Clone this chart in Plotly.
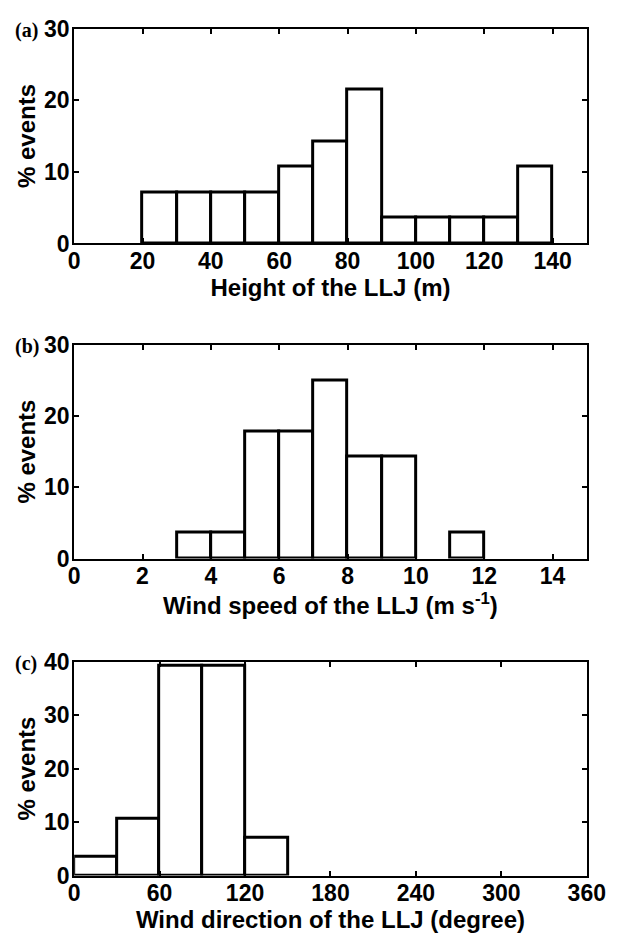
import numpy as np
import plotly.graph_objects as go

# ---- data (percent of events, 28 events) ----
height_left = [20, 30, 40, 50, 60, 70, 80, 90, 100, 110, 120, 130]
height_pct = [7.14, 7.14, 7.14, 7.14, 10.71, 14.29, 21.43, 3.57, 3.57, 3.57, 3.57, 10.71]
height_width = 10

speed_left = [3, 4, 5, 6, 7, 8, 9, 11]
speed_pct = [3.57, 3.57, 17.86, 17.86, 25.0, 14.29, 14.29, 3.57]
speed_width = 1

dir_left = [0, 30, 60, 90, 120]
dir_pct = [3.57, 10.71, 39.29, 39.29, 7.14]
dir_width = 30

height_ticks = [0, 20, 40, 60, 80, 100, 120, 140]
speed_ticks = [0, 2, 4, 6, 8, 10, 12, 14]
dir_ticks = [0, 60, 120, 180, 240, 300, 360]

panel_labels = ["(a)", "(b)", "(c)"]
x_titles = ["Height of the LLJ (m)",
            "Wind speed of the LLJ (m s<sup>-1</sup>)",
            "Wind direction of the LLJ (degree)"]
y_title = "% events"

W, H = 625, 944
ax_left, ax_right = 71, 605
ax_tops = [16, 341, 667]
ax_bots = [237, 561, 887]

font_main = "Liberation Sans, Arial, sans-serif"
FS_TICK = 23
FS_TITLE = 24

fig = go.Figure()

panels = [
    (height_left, height_pct, height_width, height_ticks, [0, 150], [0, 30], [0, 10, 20, 30]),
    (speed_left, speed_pct, speed_width, speed_ticks, [0, 15], [0, 30], [0, 10, 20, 30]),
    (dir_left, dir_pct, dir_width, dir_ticks, [0, 360], [0, 40], [0, 10, 20, 30, 40]),
]

layout = {}
for i, (left, pct, w, xt, xr, yr, yt) in enumerate(panels):
    n = "" if i == 0 else str(i + 1)
    centers = np.array(left, dtype=float) + w / 2.0
    fig.add_trace(go.Bar(
        x=centers, y=pct, width=[w] * len(pct),
        marker=dict(color="white", line=dict(color="black", width=3)),
        xaxis="x" + n, yaxis="y" + n, showlegend=False, hoverinfo="x+y",
    ))
    ydom = [1 - ax_bots[i] / H, 1 - ax_tops[i] / H]
    common = dict(showline=True, linecolor="black", linewidth=2, mirror="ticks",
                  ticks="inside", ticklen=5, tickwidth=1.5, tickcolor="black",
                  showgrid=False, zeroline=False,
                  tickfont=dict(family=font_main, size=FS_TICK, color="black", weight="bold"))
    layout["xaxis" + n] = dict(
        domain=[ax_left / W, ax_right / W], range=xr, tickmode="array", tickvals=xt,
        anchor="y" + n, ticklabelstandoff=-4,
        title=dict(text=x_titles[i], font=dict(family=font_main, size=FS_TITLE, color="black", weight="bold"),
                   standoff=0),
        **common)
    layout["yaxis" + n] = dict(
        domain=ydom, range=yr, tickmode="array", tickvals=yt, anchor="x" + n,
        ticklabelstandoff=-2,
        title=dict(text=y_title, font=dict(family=font_main, size=FS_TITLE, color="black", weight="bold"),
                   standoff=2),
        **common)

annotations = []
for i, lab in enumerate(panel_labels):
    annotations.append(dict(
        text=lab, xref="paper", yref="paper", x=7 / W, y=1 - (ax_tops[i] + 2) / H,
        xanchor="left", yanchor="middle", showarrow=False,
        font=dict(family="Liberation Serif, Times New Roman, serif", size=20, color="black", weight="bold"),
    ))

fig.update_layout(
    width=W, height=H, margin=dict(l=0, r=0, t=0, b=0),
    paper_bgcolor="white", plot_bgcolor="white",
    bargap=0, annotations=annotations, **layout,
)

fig.write_html("out.html")
